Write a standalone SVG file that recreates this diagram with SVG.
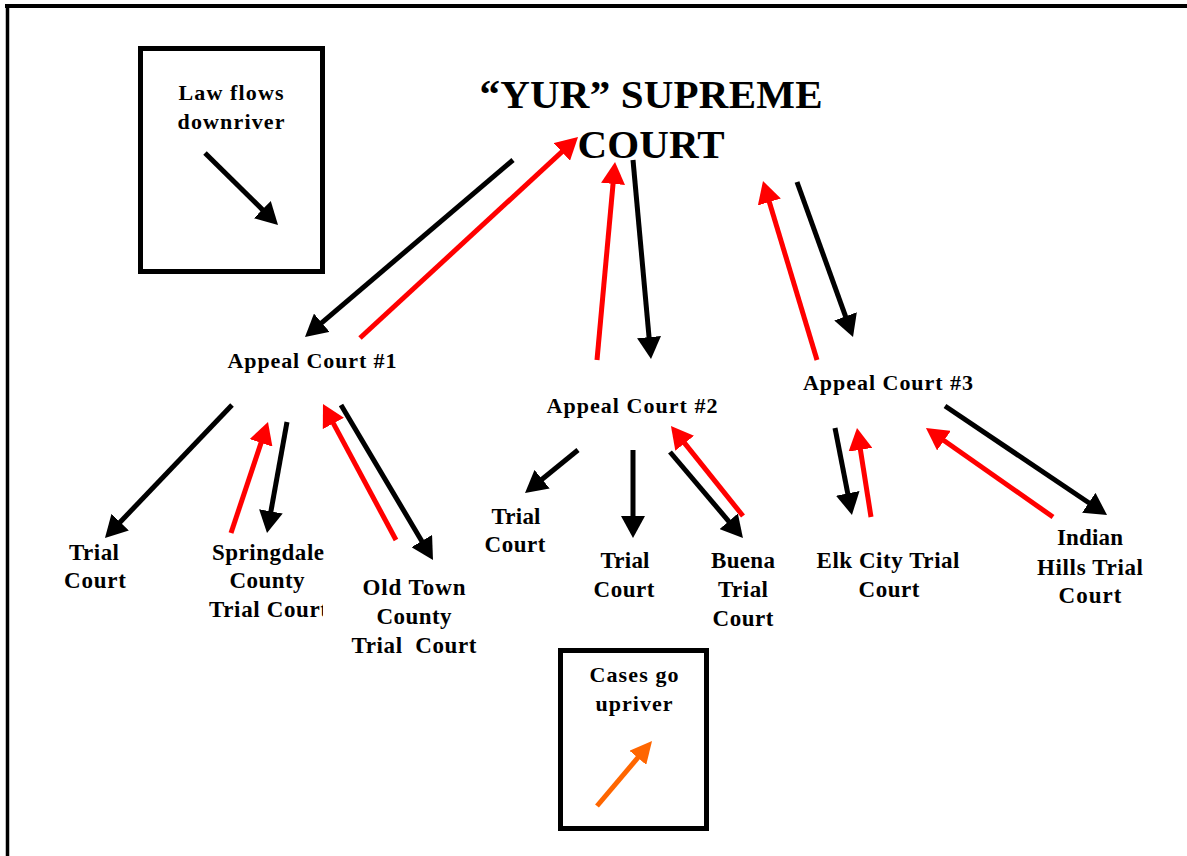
<svg xmlns="http://www.w3.org/2000/svg" width="1187" height="856" viewBox="0 0 1187 856">
<style>
text{font-family:"Liberation Serif","Times New Roman",serif;font-weight:bold;fill:#000;text-anchor:middle}
.t{font-size:23px}
.a{font-size:22px}
.h{font-size:41px}
.lg{font-size:22px}
.blk{stroke:#000;stroke-width:5;fill:none}
.red{stroke:#ff0000;stroke-width:5;fill:none}
.org{stroke:#ff6600;stroke-width:5;fill:none}
.box{fill:#fff;stroke:#000;stroke-width:5}
</style>
<defs>
<marker id="hb" markerUnits="userSpaceOnUse" markerWidth="22" markerHeight="24" viewBox="0 0 22 24" refX="4" refY="12" orient="auto"><path d="M0,0 L22,12 L0,24 z" fill="#000"/></marker>
<marker id="hr" markerUnits="userSpaceOnUse" markerWidth="22" markerHeight="24" viewBox="0 0 22 24" refX="4" refY="12" orient="auto"><path d="M0,0 L22,12 L0,24 z" fill="#ff0000"/></marker>
<marker id="ho" markerUnits="userSpaceOnUse" markerWidth="22" markerHeight="22" viewBox="0 0 22 22" refX="4" refY="11" orient="auto"><path d="M0,0 L22,11 L0,22 z" fill="#ff6600"/></marker>
<clipPath id="clipSp"><rect x="150" y="590" width="173" height="40"/></clipPath>
</defs>
<rect width="1187" height="856" fill="#fff"/>
<g id="frame">
<line x1="5" y1="6" x2="1187" y2="6" stroke="#000" stroke-width="4"/>
<line x1="7.5" y1="4" x2="7.5" y2="856" stroke="#000" stroke-width="3.5"/>
</g>

<g id="legend-law">
<rect class="box" x="140.5" y="48.5" width="182" height="223"/>
<text class="lg" x="231" y="100" textLength="105" lengthAdjust="spacing">Law flows</text>
<text class="lg" x="231" y="129" textLength="107" lengthAdjust="spacing">downriver</text>
<line class="blk" x1="205" y1="153" x2="265.2" y2="212.4" marker-end="url(#hb)"/>
</g>

<g id="legend-cases">
<rect class="box" x="560.5" y="650.5" width="146" height="178"/>
<text class="lg" x="634" y="682" textLength="89" lengthAdjust="spacing">Cases go</text>
<text class="lg" x="634" y="711" textLength="77" lengthAdjust="spacing">upriver</text>
<line class="org" x1="597" y1="806" x2="640.4" y2="754.7" marker-end="url(#ho)"/>
</g>

<g id="supreme">
<text class="h" x="651" y="108" textLength="343" lengthAdjust="spacing">“YUR” SUPREME</text>
<text class="h" x="651" y="158" textLength="147" lengthAdjust="spacing">COURT</text>
</g>

<g id="appeal1"><text class="a" x="312" y="368" textLength="169" lengthAdjust="spacing">Appeal Court #1</text></g>
<g id="appeal2"><text class="a" x="632" y="413" textLength="171" lengthAdjust="spacing">Appeal Court #2</text></g>
<g id="appeal3"><text class="a" x="888" y="390" textLength="170" lengthAdjust="spacing">Appeal Court #3</text></g>

<g id="trial1a">
<text class="t" x="94" y="560" textLength="50" lengthAdjust="spacing">Trial</text>
<text class="t" x="95" y="588" textLength="62" lengthAdjust="spacing">Court</text>
</g>
<g id="springdale">
<text class="t" x="268" y="560" textLength="112" lengthAdjust="spacing">Springdale</text>
<text class="t" x="267" y="588" textLength="75" lengthAdjust="spacing">County</text>
<text class="t" x="209" y="617" textLength="119" lengthAdjust="spacing" style="text-anchor:start" clip-path="url(#clipSp)">Trial Court</text>
</g>
<g id="oldtown">
<text class="t" x="414" y="595" textLength="103" lengthAdjust="spacing">Old Town</text>
<text class="t" x="414" y="624" textLength="75" lengthAdjust="spacing">County</text>
<text class="t" x="414" y="653" textLength="125" lengthAdjust="spacing" xml:space="preserve">Trial  Court</text>
</g>

<g id="trial2a">
<text class="t" x="516" y="524" textLength="49" lengthAdjust="spacing">Trial</text>
<text class="t" x="515" y="552" textLength="61" lengthAdjust="spacing">Court</text>
</g>
<g id="trial2b">
<text class="t" x="625" y="568" textLength="49" lengthAdjust="spacing">Trial</text>
<text class="t" x="624" y="597" textLength="61" lengthAdjust="spacing">Court</text>
</g>
<g id="buena">
<text class="t" x="743" y="568" textLength="64" lengthAdjust="spacing">Buena</text>
<text class="t" x="743" y="597" textLength="50" lengthAdjust="spacing">Trial</text>
<text class="t" x="743" y="626" textLength="61" lengthAdjust="spacing">Court</text>
</g>

<g id="elkcity">
<text class="t" x="888" y="568" textLength="143" lengthAdjust="spacing">Elk City Trial</text>
<text class="t" x="889" y="597" textLength="61" lengthAdjust="spacing">Court</text>
</g>
<g id="indianhills">
<text class="t" x="1090" y="545" textLength="66" lengthAdjust="spacing">Indian</text>
<text class="t" x="1090" y="575" textLength="106" lengthAdjust="spacing">Hills Trial</text>
<text class="t" x="1090" y="603" textLength="63" lengthAdjust="spacing">Court</text>
</g>

<g id="connectors">
<line class="blk" x1="513" y1="160" x2="318.7" y2="325.3" marker-end="url(#hb)"/>
<line class="red" x1="360" y1="338" x2="564.8" y2="149.2" marker-end="url(#hr)"/>
<line class="red" x1="597" y1="360" x2="613.4" y2="179.9" marker-end="url(#hr)"/>
<line class="blk" x1="633" y1="160" x2="649.4" y2="341.1" marker-end="url(#hb)"/>
<line class="red" x1="817" y1="360" x2="768.2" y2="198.2" marker-end="url(#hr)"/>
<line class="blk" x1="797" y1="182" x2="846.9" y2="320.1" marker-end="url(#hb)"/>

<line class="blk" x1="232" y1="405" x2="117.4" y2="525" marker-end="url(#hb)"/>
<line class="red" x1="231" y1="533" x2="262.3" y2="439.1" marker-end="url(#hr)"/>
<line class="blk" x1="287" y1="422" x2="270.2" y2="515.3" marker-end="url(#hb)"/>
<line class="red" x1="396" y1="540" x2="331.5" y2="419.9" marker-end="url(#hr)"/>
<line class="blk" x1="341" y1="405" x2="423.8" y2="544.5" marker-end="url(#hb)"/>

<line class="blk" x1="578" y1="450" x2="539" y2="481.7" marker-end="url(#hb)"/>
<line class="blk" x1="633" y1="450" x2="633" y2="520" marker-end="url(#hb)"/>
<line class="blk" x1="670" y1="452" x2="731.3" y2="524.3" marker-end="url(#hb)"/>
<line class="red" x1="743" y1="516" x2="682.2" y2="440.1" marker-end="url(#hr)"/>

<line class="blk" x1="835" y1="428" x2="848.5" y2="497.3" marker-end="url(#hb)"/>
<line class="red" x1="871" y1="517" x2="859.8" y2="445.8" marker-end="url(#hr)"/>
<line class="blk" x1="945" y1="406" x2="1092.1" y2="505" marker-end="url(#hb)"/>
<line class="red" x1="1053" y1="517" x2="940.7" y2="438.3" marker-end="url(#hr)"/>
</g>
</svg>
